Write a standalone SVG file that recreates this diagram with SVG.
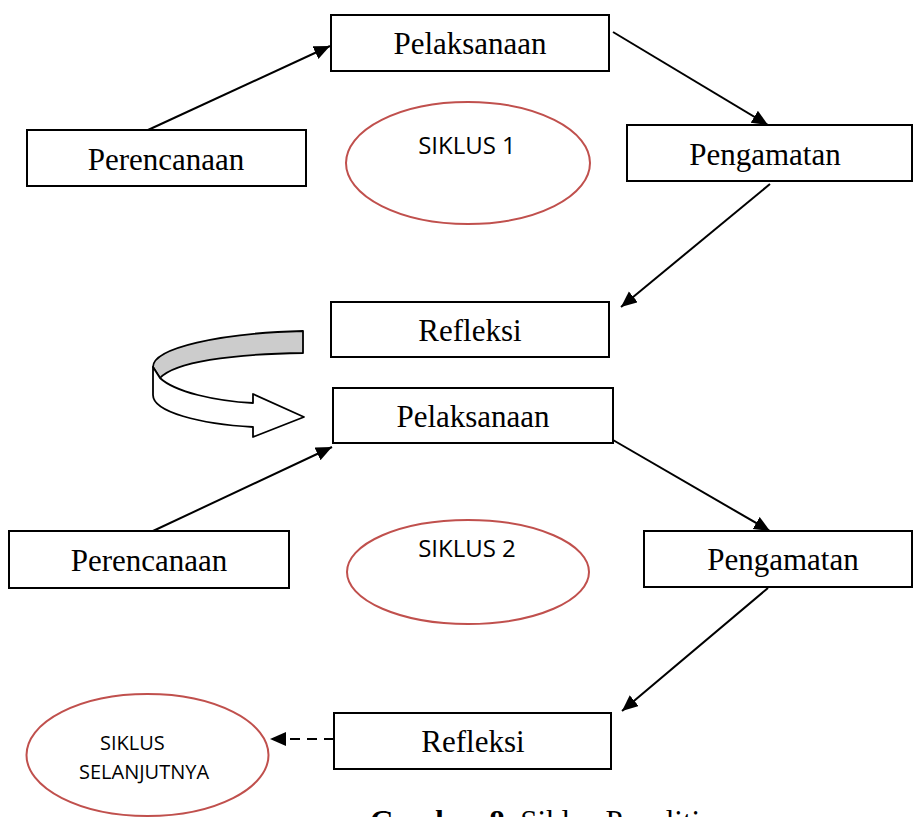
<svg xmlns="http://www.w3.org/2000/svg" width="914" height="817" viewBox="0 0 914 817">
<style>
.box{fill:#fff;stroke:#000;stroke-width:2}
.lbl{font-family:"Liberation Serif","Times New Roman",serif;font-size:31px;fill:#000;text-anchor:middle}
.ell{fill:#fff;stroke:#c0504d;stroke-width:2}
.sik{font-family:"Open Sans","Liberation Sans",sans-serif;font-size:24px;fill:#000}
.con{stroke:#000;stroke-width:2;fill:none}
</style>
<defs>
<marker id="ah" markerUnits="userSpaceOnUse" markerWidth="18" markerHeight="16" refX="16" refY="7" orient="auto">
<path d="M0,0 L16,7 L0,14 Z" fill="#000"/>
</marker>
</defs>
<rect width="914" height="817" fill="#fff"/>
<g id="connectors">
<line class="con" x1="148" y1="130" x2="330" y2="46" marker-end="url(#ah)"/>
<line class="con" x1="613" y1="32" x2="768" y2="125" marker-end="url(#ah)"/>
<line class="con" x1="770" y1="184" x2="621" y2="307" marker-end="url(#ah)"/>
<line class="con" x1="153" y1="531" x2="332" y2="447" marker-end="url(#ah)"/>
<line class="con" x1="613" y1="440" x2="770" y2="531" marker-end="url(#ah)"/>
<line class="con" x1="768" y1="588" x2="622" y2="711" marker-end="url(#ah)"/>
<line class="con" x1="334" y1="739" x2="270" y2="739" stroke-dasharray="10,7" marker-end="url(#ah)"/>
</g>
<g id="curved-arrow" stroke="#000" stroke-width="1.8" stroke-linejoin="round">
<path d="M303,331 C220,333 153,348 153,367 L160,378 C175,362 230,354 303,353 Z" fill="#cccccc"/>
<path d="M153,367 L160,378 C175,392 215,401 253,403 L253,394 L304,417 L253,437 L253,427 C200,424 153,412 153,395 Z" fill="#fff"/>
</g>
<g id="pelaksanaan1"><rect class="box" x="331" y="15" width="278" height="56"/><text class="lbl" x="470" y="54">Pelaksanaan</text></g>
<g id="perencanaan1"><rect class="box" x="27" y="130" width="279" height="56"/><text class="lbl" x="166" y="170">Perencanaan</text></g>
<g id="pengamatan1"><rect class="box" x="627" y="125" width="285" height="56"/><text class="lbl" x="765" y="165">Pengamatan</text></g>
<g id="siklus1"><ellipse class="ell" cx="468" cy="163" rx="122" ry="61"/><text class="sik" x="467" y="154" text-anchor="middle">SIKLUS 1</text></g>
<g id="refleksi1"><rect class="box" x="331" y="302" width="278" height="55"/><text class="lbl" x="470" y="341">Refleksi</text></g>
<g id="pelaksanaan2"><rect class="box" x="333" y="388" width="280" height="55"/><text class="lbl" x="473" y="427">Pelaksanaan</text></g>
<g id="perencanaan2"><rect class="box" x="9" y="531" width="280" height="57"/><text class="lbl" x="149" y="571">Perencanaan</text></g>
<g id="siklus2"><ellipse class="ell" cx="468" cy="572" rx="121" ry="52"/><text class="sik" x="467" y="557" text-anchor="middle">SIKLUS 2</text></g>
<g id="pengamatan2"><rect class="box" x="644" y="531" width="268" height="56"/><text class="lbl" x="783" y="570">Pengamatan</text></g>
<g id="refleksi2"><rect class="box" x="334" y="713" width="277" height="56"/><text class="lbl" x="473" y="752">Refleksi</text></g>
<g id="siklus-selanjutnya"><ellipse class="ell" cx="147.5" cy="755" rx="121" ry="61"/><text class="sik" style="font-size:20px" x="100" y="750">SIKLUS</text><text class="sik" style="font-size:20px" x="79" y="779">SELANJUTNYA</text></g>
<text x="370" y="832" font-family="Liberation Serif,'Times New Roman',serif" font-size="31"><tspan font-weight="bold">Gambar 8.</tspan> Siklus Penelitian</text>
</svg>
